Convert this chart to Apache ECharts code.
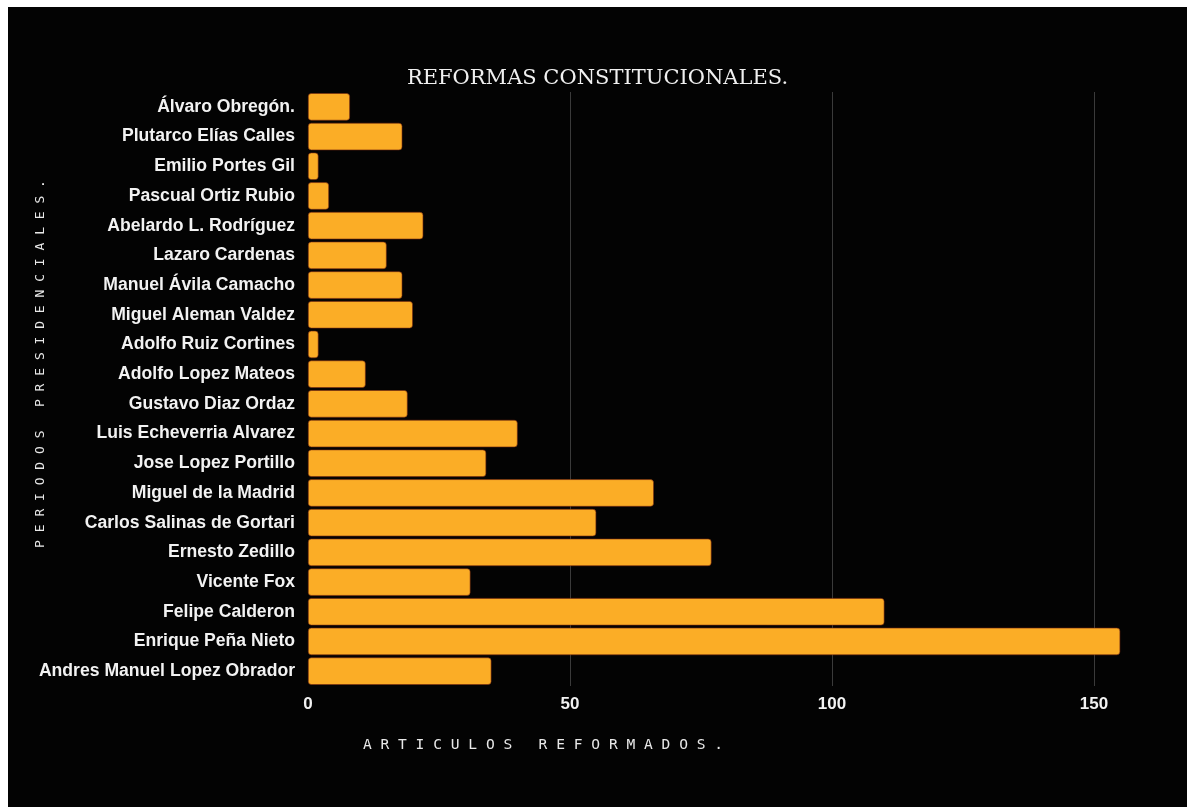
<!DOCTYPE html>
<html>
<head>
<meta charset="utf-8">
<script src="https://cdn.jsdelivr.net/npm/echarts@6/dist/echarts.min.js"></script>
<style>
  html, body { margin: 0; padding: 0; background: #ffffff; width: 1196px; height: 807px; overflow: hidden; }
  #chart { position: absolute; left: 8px; top: 7px; width: 1179px; height: 800px; background: #030303; }
</style>
</head>
<body>
<div id="chart"></div>
<script>
const categories = [
  "Álvaro Obregón.",
  "Plutarco Elías Calles",
  "Emilio Portes Gil",
  "Pascual Ortiz Rubio",
  "Abelardo L. Rodríguez",
  "Lazaro Cardenas",
  "Manuel Ávila Camacho",
  "Miguel Aleman Valdez",
  "Adolfo Ruiz Cortines",
  "Adolfo Lopez Mateos",
  "Gustavo Diaz Ordaz",
  "Luis Echeverria Alvarez",
  "Jose Lopez Portillo",
  "Miguel de la Madrid",
  "Carlos Salinas de Gortari",
  "Ernesto Zedillo",
  "Vicente Fox",
  "Felipe Calderon",
  "Enrique Peña Nieto",
  "Andres Manuel Lopez Obrador"
];
const values = [8, 18, 2, 4, 22, 15, 18, 20, 2, 11, 19, 40, 34, 66, 55, 77, 31, 110, 155, 35];
const titleText = "REFORMAS CONSTITUCIONALES.";
const xAxisTitle = "A R T I C U L O S   R E F O R M A D O S .";
const yAxisTitle = "P E R I O D O S   P R E S I D E N C I A L E S .";

const chart = echarts.init(document.getElementById('chart'), null, { renderer: 'canvas' });
chart.setOption({
  backgroundColor: '#030303',
  animation: false,
  grid: { left: 300, top: 85, right: 40.6, bottom: 121, containLabel: false },
  xAxis: {
    type: 'value',
    min: 0, max: 160, interval: 50,
    axisLine: { show: false },
    axisTick: { show: false },
    axisLabel: {
      color: '#f2f2f2', fontFamily: 'Liberation Sans', fontWeight: 'bold', fontSize: 17, margin: 10,
      showMaxLabel: false,
      formatter: function (v) { return v % 50 === 0 ? String(v) : ''; }
    },
    splitLine: { show: true, lineStyle: { color: ['rgba(0,0,0,0)', '#3a3a3a', '#3a3a3a', '#3a3a3a', 'rgba(0,0,0,0)'], width: 1 } }
  },
  yAxis: {
    type: 'category',
    data: categories,
    inverse: true,
    axisLine: { show: false },
    axisTick: { show: false },
    axisLabel: { color: '#f2f2f2', fontFamily: 'Liberation Sans', fontWeight: 'bold', fontSize: 17.6, margin: 13 },
    splitLine: { show: false }
  },
  series: [{
    type: 'bar',
    data: values,
    barCategoryGap: '8%',
    itemStyle: { color: '#FBAD26', borderRadius: 3, borderColor: '#7a2a10', borderWidth: 0.6 }
  }],
  graphic: [
    {
      type: 'text', left: 'center', top: 61,
      style: { text: titleText, fill: '#f0f0f0', font: '21px "DejaVu Serif"', textAlign: 'center' }
    },
    {
      type: 'text', x: 535, y: 738,
      style: { text: xAxisTitle, fill: '#e8e8e8', font: '14.6px "DejaVu Sans Mono"', textAlign: 'center', textVerticalAlign: 'middle' }
    },
    {
      type: 'text', x: 33, y: 357, rotation: Math.PI / 2,
      style: { text: yAxisTitle, fill: '#e8e8e8', font: '13px "DejaVu Sans Mono"', textAlign: 'center', textVerticalAlign: 'middle' }
    }
  ]
});
</script>
</body>
</html>
